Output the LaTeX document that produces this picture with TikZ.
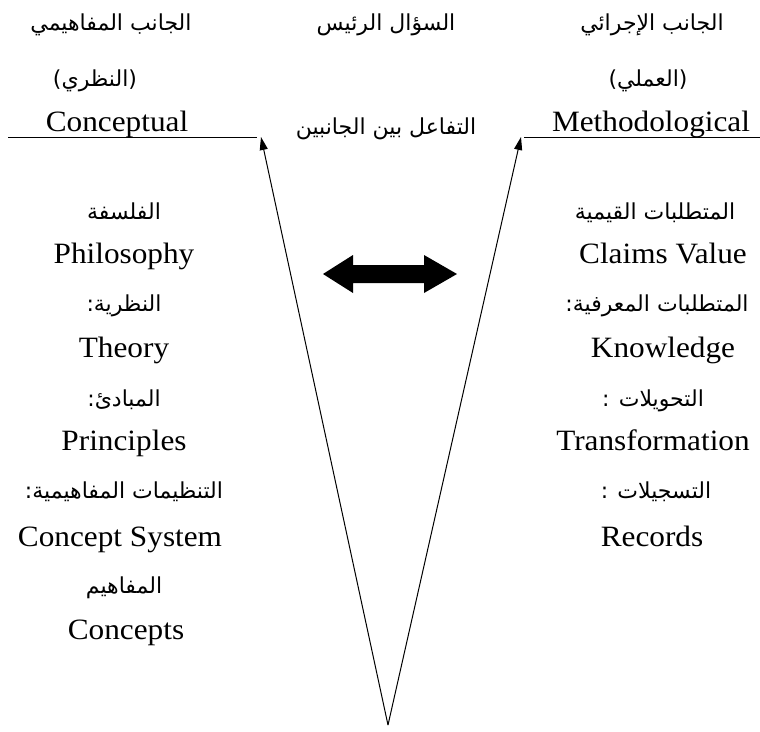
\documentclass[tikz,border=0pt]{standalone}
\usepackage{fontspec}
\setmainfont[FakeStretch=1.06]{Liberation Serif}
\newfontfamily\arabicfont[Script=Arabic]{DejaVu Sans}
\newfontfamily\parenfont{DejaVu Sans}
\TeXXeTstate=1
\usetikzlibrary{arrows.meta}
\tikzset{
  en/.style={font=\fontsize{29.5}{31}\selectfont, inner sep=0pt, anchor=base},
  ar/.style={font=\arabicfont\fontsize{22}{24}\selectfont, inner sep=0pt, anchor=base},
  vline/.style={line width=1pt, -{Triangle[length=13pt,width=8pt]}},
  hline/.style={line width=1pt}
}
\newcommand{\lp}{{\parenfont(}}
\newcommand{\rp}{{\parenfont)}}
\begin{document}
\begin{tikzpicture}[x=1pt,y=-1pt]
\useasboundingbox (0,0) rectangle (760,731);
% top headings
\node[ar] (h1) at (111,30) {\beginR الجانب المفاهيمي\endR};
\node[ar] (h2) at (95,86) {\lp\beginR النظري\endR\rp};
\node[en] (h3) at (117,131) {Conceptual};
\node[ar] (c1) at (386,30) {\beginR السؤال الرئيس\endR};
\node[ar] (c2) at (386,134) {\beginR التفاعل بين الجانبين\endR};
\node[ar] (m1) at (652,30) {\beginR الجانب الإجرائي\endR};
\node[ar] (m2) at (648,86) {\lp\beginR العملي\endR\rp};
\node[en] (m3) at (651,131) {Methodological};
% left column
\node[ar] (l1) at (124,219) {\beginR الفلسفة\endR};
\node[en] (l2) at (124,263) {Philosophy};
\node[ar] (l3) at (124,311) {:\beginR النظرية\endR};
\node[en] (l4) at (124,357) {Theory};
\node[ar] (l5) at (124,406) {:\beginR المبادئ\endR};
\node[en] (l6) at (124,450) {Principles};
\node[ar] (l7) at (124,498) {:\beginR التنظيمات المفاهيمية\endR};
\node[en] (l8) at (120,546) {Concept System};
\node[ar] (l9) at (124,593) {\beginR المفاهيم\endR};
\node[en] (l10) at (126,639) {Concepts};
% right column
\node[ar] (r1) at (655,219) {\beginR المتطلبات القيمية\endR};
\node[en] (r2) at (663,263) {Claims Value};
\node[ar] (r3) at (657,311) {:\beginR المتطلبات المعرفية\endR};
\node[en] (r4) at (663,357) {Knowledge};
\node[ar] (r5) at (653,406) {: \beginR التحويلات\endR};
\node[en] (r6) at (653,450) {Transformation};
\node[ar] (r7) at (656,498) {: \beginR التسجيلات\endR};
\node[en] (r8) at (652,546) {Records};
% lines
\coordinate (apex) at (388,725);
\coordinate (ltip) at (261,137);
\coordinate (rtip) at (521,137);
\coordinate (la) at (8,137);
\coordinate (lb) at (257,137);
\coordinate (ra) at (524,137);
\coordinate (rb) at (760,137);
\draw[hline] (la) -- (lb);
\draw[hline] (ra) -- (rb);
\draw[vline] (apex) -- (ltip);
\draw[vline] (apex) -- (rtip);
% double arrow
\fill[black] (323,274) -- (353,255) -- (353,265) -- (424,265) -- (424,255) -- (457,274)
  -- (424,293) -- (424,283) -- (353,283) -- (353,293) -- cycle;
\end{tikzpicture}
\end{document}
